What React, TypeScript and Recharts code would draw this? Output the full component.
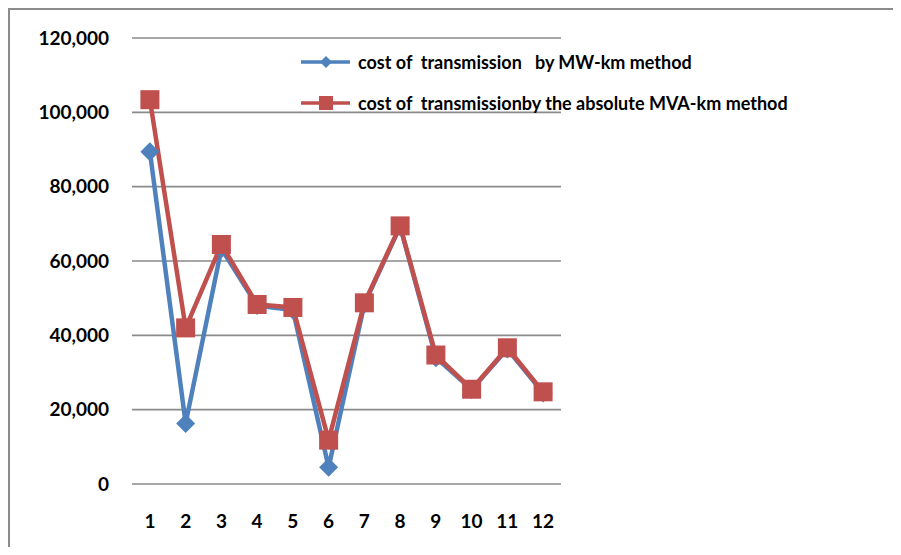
import React from "react";
import { LineChart, Line, XAxis, YAxis, CartesianGrid, Legend } from "recharts";

const categories = ["1", "2", "3", "4", "5", "6", "7", "8", "9", "10", "11", "12"];
const mwKm = [89400, 16300, 63300, 48000, 46800, 4500, 48400, 69300, 34000, 25400, 36300, 24500];
const mvaKm = [103400, 42000, 64450, 48300, 47500, 11800, 48750, 69450, 34700, 25500, 36650, 24800];
const yTicks = [0, 20000, 40000, 60000, 80000, 100000, 120000];
const seriesNames = [
  "cost of  transmission   by MW-km method",
  "cost of  transmissionby the absolute MVA-km method",
];

const data = categories.map((c, i) => ({ cat: c, mw: mwKm[i], mva: mvaKm[i] }));

const BLUE = "#4F81BD";
const RED = "#C0504D";
const FONT = "Lato, 'Liberation Sans', sans-serif";

const Diamond = (props: any) => {
  const { cx, cy } = props;
  if (cx == null || cy == null) return <g key={props.key} />;
  const r = 9.5;
  return (
    <path
      key={`d-${props.index}`}
      d={`M${cx},${cy - r}L${cx + r},${cy}L${cx},${cy + r}L${cx - r},${cy}Z`}
      fill={BLUE}
      stroke="none"
    />
  );
};

const Square = (props: any) => {
  const { cx, cy } = props;
  if (cx == null || cy == null) return <g key={props.key} />;
  const s = 19;
  return (
    <rect key={`s-${props.index}`} x={cx - s / 2} y={cy - s / 2} width={s} height={s} fill={RED} stroke="none" />
  );
};

const renderLegend = () => {
  const rows = [
    { name: seriesNames[0], color: BLUE, marker: "diamond" },
    { name: seriesNames[1], color: RED, marker: "square" },
  ];
  return (
    <div style={{ display: "flex", flexDirection: "column" }}>
      {rows.map((r, i) => (
        <div key={i} style={{ display: "flex", alignItems: "center", height: 40.6 }}>
          <svg width={50} height={20} style={{ display: "block" }}>
            <line x1={0} y1={10} x2={49} y2={10} stroke={r.color} strokeWidth={3.5} />
            {r.marker === "diamond" ? (
              <path d="M25,4L31,10L25,16L19,10Z" fill={r.color} />
            ) : (
              <rect x={18} y={3} width={14} height={14} fill={r.color} />
            )}
          </svg>
          <span
            style={{
              marginLeft: 7,
              whiteSpace: "pre",
              fontFamily: FONT,
              fontWeight: 700,
              fontSize: 18,
              color: "#000",
            }}
          >
            {r.name}
          </span>
        </div>
      ))}
    </div>
  );
};

export default function App() {
  return (
    <div style={{ position: "relative", margin: -8, width: 901, height: 555, background: "#fff", overflow: "hidden" }}>
      <div
        style={{
          position: "absolute",
          left: 8,
          top: 8,
          width: 900,
          height: 560,
          borderTop: "2px solid #8c8c8c",
          borderLeft: "2px solid #8c8c8c",
        }}
      />
      <div style={{ position: "absolute", left: 0, top: 0 }}>
        <LineChart
          width={901}
          height={555}
          data={data}
          margin={{ top: 38, right: 340, bottom: 0, left: 32 }}
        >
          <CartesianGrid horizontal vertical={false} stroke="#8a8a8a" strokeWidth={1.6} />
          <XAxis
            dataKey="cat"
            axisLine={false}
            tickLine={false}
            tickSize={6}
            tickMargin={25}
            height={71}
            interval={0}
            padding={{ left: 17.9, right: 17.9 }}
            tick={{ fill: "#000", fontFamily: FONT, fontWeight: 700, fontSize: 19 }}
          />
          <YAxis
            width={100}
            domain={[0, 120000]}
            ticks={yTicks}
            axisLine={false}
            tickLine={false}
            tickSize={6}
            tickMargin={17}
            tickFormatter={(v: number) => v.toLocaleString("en-US")}
            tick={{ fill: "#000", fontFamily: FONT, fontWeight: 700, fontSize: 19 }}
          />
          <Legend
            content={renderLegend}
            verticalAlign="top"
            wrapperStyle={{ position: "absolute", left: 301, top: 42, width: 560, height: 0, overflow: "visible" }}
          />
          <Line
            type="linear"
            dataKey="mw"
            name={seriesNames[0]}
            stroke={BLUE}
            strokeWidth={4.5}
            dot={(p: any) => <Diamond {...p} key={`d-${p.index}`} />}
            activeDot={false}
            isAnimationActive={false}
          />
          <Line
            type="linear"
            dataKey="mva"
            name={seriesNames[1]}
            stroke={RED}
            strokeWidth={4.5}
            dot={(p: any) => <Square {...p} key={`s-${p.index}`} />}
            activeDot={false}
            isAnimationActive={false}
          />
        </LineChart>
      </div>
    </div>
  );
}
